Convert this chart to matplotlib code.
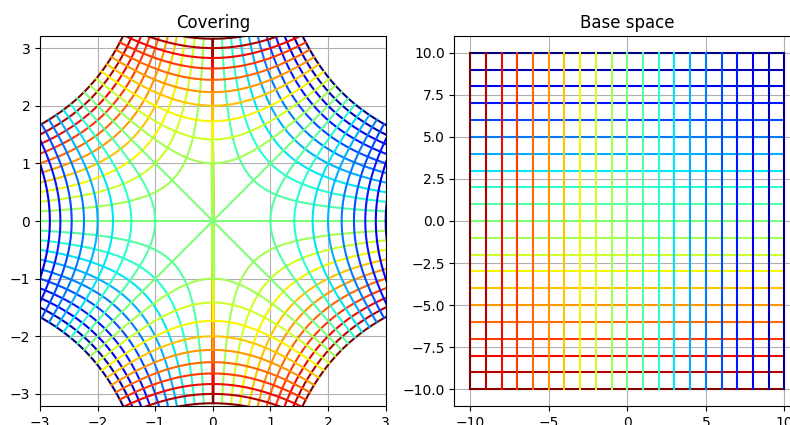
import numpy as np
import matplotlib
matplotlib.use('Agg')
import matplotlib.pyplot as plt

# grid lines of the base space (w = u + iv), covering is z = sqrt(w)
grid_values = [-10, -9, -8, -7, -6, -5, -4, -3, -2, -1, 0,
               1, 2, 3, 4, 5, 6, 7, 8, 9, 10]
line_range = (-10, 10)
n_samples = 401

cmap = plt.get_cmap('jet_r')


def color_of(val):
    return cmap((val - grid_values[0]) / (grid_values[-1] - grid_values[0]))


fig = plt.figure(figsize=(7.9, 4.25), dpi=100)
# the reference is a crop of a bigger figure, so the axes sit at the edges
ax1 = fig.add_axes([0.0506, 0.0447, 0.4376, 0.8706])
ax2 = fig.add_axes([0.5753, 0.0447, 0.4376, 0.8706])

t = np.linspace(line_range[0], line_range[1], n_samples)

# horizontal lines (v = const) first, then vertical ones (u = const)
for v in grid_values:
    w = t + 1j * v
    z = np.sqrt(w.astype(complex))
    c = color_of(v)
    ax2.plot(t, np.full_like(t, v), color=c)
    ax1.plot(z.real, z.imag, color=c)
    ax1.plot(-z.real, -z.imag, color=c)

for u in grid_values:
    w = u + 1j * t
    z = np.sqrt(w.astype(complex))
    c = color_of(u)
    ax2.plot(np.full_like(t, u), t, color=c)
    ax1.plot(z.real, z.imag, color=c)
    ax1.plot(-z.real, -z.imag, color=c)

ax1.set_title('Covering')
ax1.set_xlim(-3, 3)
ax1.set_ylim(-3.21, 3.21)
ax1.grid(True)

ax2.set_title('Base space')
ax2.set_xlim(-11, 11)
ax2.set_ylim(-11, 11)
ax2.grid(True)

plt.savefig('out.png')
